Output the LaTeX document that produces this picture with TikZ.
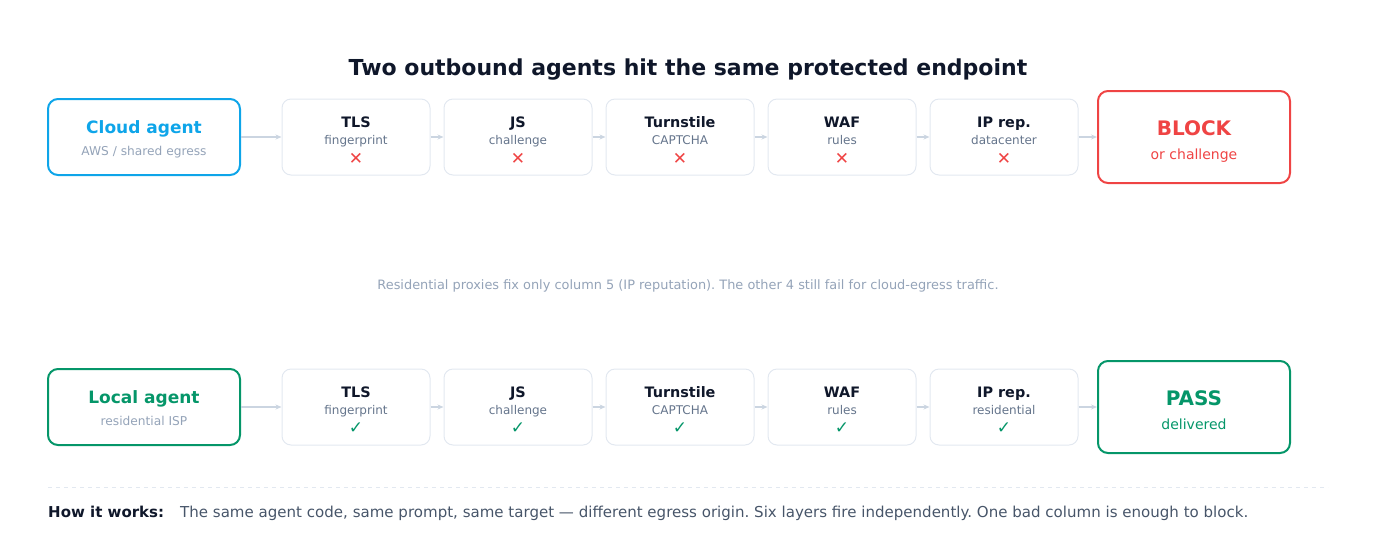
\documentclass[tikz,border=0pt]{standalone}
\usepackage{fontspec}
\setmainfont{DejaVu Sans}
\frenchspacing
\usetikzlibrary{arrows.meta}
\definecolor{ink}{HTML}{0F172A}
\definecolor{sub}{HTML}{64748B}
\definecolor{faint}{HTML}{94A3B8}
\definecolor{edge}{HTML}{E2E8F0}
\definecolor{conn}{HTML}{CBD5E1}
\definecolor{sky}{HTML}{0EA5E9}
\definecolor{bad}{HTML}{EF4444}
\definecolor{good}{HTML}{059669}
\definecolor{body}{HTML}{475569}
\tikzset{
  agent/.style={draw=#1, line width=2pt, rounded corners=10pt, minimum width=192pt, minimum height=76pt, inner sep=0pt},
  verdict/.style={draw=#1, line width=2pt, rounded corners=10pt, minimum width=192pt, minimum height=92pt, inner sep=0pt},
  layer/.style={draw=edge, line width=1pt, rounded corners=9pt, minimum width=148pt, minimum height=76pt, inner sep=0pt},
  flow/.style={draw=conn, line width=1.2pt, -{Stealth[length=6pt,width=5pt]}},
  txt/.style={anchor=base, inner sep=0pt},
  ttl/.style={txt, font=\bfseries\fontsize{14.4}{17}\selectfont, text=ink},
  stl/.style={txt, font=\fontsize{12}{14}\selectfont, text=sub},
}
\newcommand{\layerbox}[6]{%
  \node[layer] (#1) at (#2,#3) {};
  \node[ttl] (#1t) at (#2,#3-9.5) {#4};
  \node[stl] (#1s) at (#2,#3+7.5) {#5};
  \node (#1m) at (#2,#3+21.5) {#6};
}
\begin{document}
\begin{tikzpicture}[x=1pt,y=-1pt]
\useasboundingbox (0,0) rectangle (1376,550);
\node[txt, font=\bfseries\fontsize{22}{26}\selectfont, text=ink] (title) at (688,75.5) {Two outbound agents hit the same protected endpoint};

% top row
\node[agent=sky] (cloud) at (144,137) {};
\node[txt, font=\bfseries\fontsize{17}{20}\selectfont, text=sky] (cloudt) at (144,133) {Cloud agent};
\node[txt, font=\fontsize{12.2}{15}\selectfont, text=faint] (clouds) at (144,155) {AWS / shared egress};
\newcommand{\xm}{\textcolor{bad}{\fontsize{17}{20}\selectfont ✕}}
\newcommand{\cm}{\textcolor{good}{\fontsize{17}{20}\selectfont ✓}}
\layerbox{a1}{356}{137}{TLS}{fingerprint}{\xm}
\layerbox{a2}{518}{137}{JS}{challenge}{\xm}
\layerbox{a3}{680}{137}{Turnstile}{CAPTCHA}{\xm}
\layerbox{a4}{842}{137}{WAF}{rules}{\xm}
\layerbox{a5}{1004}{137}{IP rep.}{datacenter}{\xm}
\node[verdict=bad] (block) at (1194,137) {};
\node[txt, font=\bfseries\fontsize{20}{24}\selectfont, text=bad] (blockt) at (1194,135) {BLOCK};
\node[txt, font=\fontsize{14}{17}\selectfont, text=bad] (blocks) at (1194,159) {or challenge};
\draw[flow] (cloud) -- (a1);
\draw[flow] (a1) -- (a2);
\draw[flow] (a2) -- (a3);
\draw[flow] (a3) -- (a4);
\draw[flow] (a4) -- (a5);
\draw[flow] (a5) -- (block);

\node[txt, font=\fontsize{12.9}{16}\selectfont, text=faint] (note) at (688,289) {Residential proxies fix only column 5 (IP reputation). The other 4 still fail for cloud-egress traffic.};

% bottom row
\node[agent=good] (local) at (144,407) {};
\node[txt, font=\bfseries\fontsize{17}{20}\selectfont, text=good] (localt) at (144,403) {Local agent};
\node[txt, font=\fontsize{12.2}{15}\selectfont, text=faint] (locals) at (144,425) {residential ISP};
\layerbox{b1}{356}{407}{TLS}{fingerprint}{\cm}
\layerbox{b2}{518}{407}{JS}{challenge}{\cm}
\layerbox{b3}{680}{407}{Turnstile}{CAPTCHA}{\cm}
\layerbox{b4}{842}{407}{WAF}{rules}{\cm}
\layerbox{b5}{1004}{407}{IP rep.}{residential}{\cm}
\node[verdict=good] (pass) at (1194,407) {};
\node[txt, font=\bfseries\fontsize{20}{24}\selectfont, text=good] (passt) at (1194,405) {PASS};
\node[txt, font=\fontsize{14}{17}\selectfont, text=good] (passs) at (1194,429) {delivered};
\draw[flow] (local) -- (b1);
\draw[flow] (b1) -- (b2);
\draw[flow] (b2) -- (b3);
\draw[flow] (b3) -- (b4);
\draw[flow] (b4) -- (b5);
\draw[flow] (b5) -- (pass);

\coordinate (dl) at (48,487);
\coordinate (dr) at (1328,487);
\draw[edge, line width=1pt, dash pattern=on 4pt off 4pt] (dl) -- (dr);
\node[anchor=base west, inner sep=0pt, font=\bfseries\fontsize{15}{18}\selectfont, text=ink] (how) at (48,517) {How it works:};
\node[anchor=base west, inner sep=0pt, font=\fontsize{15.04}{18}\selectfont, text=body] (howt) at (180,517) {The same agent code, same prompt, same target — different egress origin. Six layers fire independently. One bad column is enough to block.};
\end{tikzpicture}
\end{document}
